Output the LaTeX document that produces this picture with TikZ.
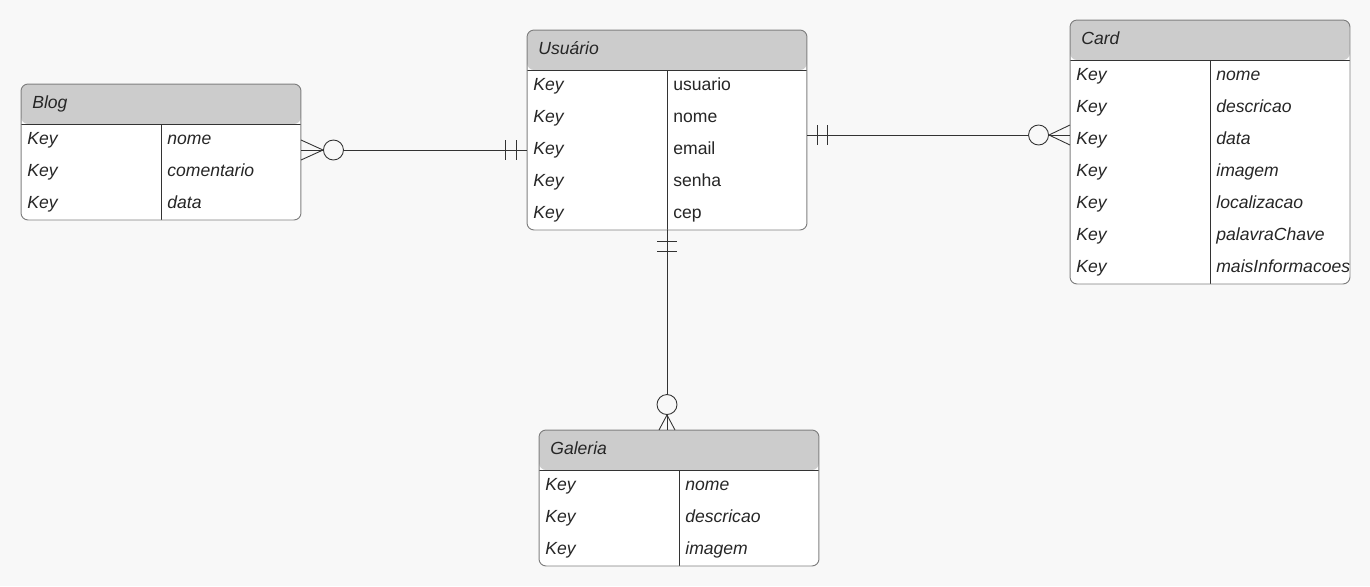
\documentclass[tikz,border=0pt]{standalone}
\usepackage{fontspec}
\setmainfont{Liberation Sans}
\usepackage{xcolor}
\usepackage{tikz}
\usetikzlibrary{calc}
\definecolor{pagebg}{HTML}{F8F8F8}
\definecolor{headgray}{HTML}{CCCCCC}
\definecolor{framegray}{HTML}{808080}
\definecolor{linedark}{HTML}{333333}
\definecolor{inkgray}{HTML}{262626}

\begin{document}
\begin{tikzpicture}[x=0.02cm, y=-0.02cm,
  every node/.style={font=\fontsize{10}{12}\selectfont, text=inkgray},
  entity/.style={draw=framegray, fill=white, rounded corners=4pt, minimum width=5.6cm,
    inner sep=0pt, line width=0.55pt,
    path picture={
      \fill[headgray] (path picture bounding box.north west) rectangle ([yshift=-0.8cm]path picture bounding box.north east);
      \draw[linedark, line width=0.5pt] ([yshift=-0.8cm]path picture bounding box.north west) -- ([yshift=-0.8cm]path picture bounding box.north east);
      \draw[linedark, line width=0.5pt] ([yshift=-0.8cm]path picture bounding box.north) -- (path picture bounding box.south);
    }},
  field/.style={anchor=west, inner sep=0pt, text height=7pt, text depth=2.5pt},
  fieldit/.style={field, font=\fontsize{10}{12}\selectfont\itshape},
  rel/.style={draw=linedark, line width=0.5pt},
  ring/.style={circle, draw=linedark, fill=pagebg, line width=0.5pt, minimum size=0.4cm, inner sep=0pt}]

\fill[pagebg] (0,0) rectangle (1370,586);
\useasboundingbox (0,0) rectangle (1370,586);

% ---------------- Usuario ---------------------------------------------------
\node[entity, minimum height=4cm] (usuario) at (667,130) {};
\node[fieldit] (usuario-t) at (538,51) {Usuário};
\foreach \v [count=\i] in {usuario,nome,email,senha,cep} {
  \coordinate (usuario-r\i) at (667,{54+32*\i});
  \node[fieldit] (usuario-k\i) at (533,{55+32*\i}) {Key};
  \node[field] (usuario-v\i) at (673,{55+32*\i}) {\v};
}

% ---------------- Blog ------------------------------------------------------
\node[entity, minimum height=2.72cm] (blog) at (161,152) {};
\node[fieldit] (blog-t) at (32,105) {Blog};
\foreach \v [count=\i] in {nome,comentario,data} {
  \node[fieldit] (blog-k\i) at (27,{109+32*\i}) {Key};
  \node[fieldit] (blog-v\i) at (167,{109+32*\i}) {\v};
}

% ---------------- Card ------------------------------------------------------
\node[entity, minimum height=5.28cm] (card) at (1210,152) {};
\node[fieldit] (card-t) at (1081,41) {Card};
\foreach \v [count=\i] in {nome,descricao,data,imagem,localizacao,palavraChave,maisInformacoes} {
  \node[fieldit] (card-k\i) at (1076,{45+32*\i}) {Key};
  \node[fieldit] (card-v\i) at (1216,{45+32*\i}) {\v};
}

% ---------------- Galeria ---------------------------------------------------
\node[entity, minimum height=2.72cm] (galeria) at (679,498) {};
\node[fieldit] (galeria-t) at (550,451) {Galeria};
\foreach \v [count=\i] in {nome,descricao,imagem} {
  \node[fieldit] (galeria-k\i) at (545,{455+32*\i}) {Key};
  \node[fieldit] (galeria-v\i) at (685,{455+32*\i}) {\v};
}

% ---------------- relations -------------------------------------------------
% Blog -- Usuario
\coordinate (bu-b) at (blog.east |- usuario-r3);
\coordinate (bu-u) at (usuario.west |- usuario-r3);
\draw[rel] (bu-b) -- (bu-u);
\draw[rel] (bu-u) ++(-10,-10) -- ++(0,20) (bu-u) ++(-21,-10) -- ++(0,20);
\node[ring] (bu-o) at ($(bu-b)+(32,0)$) {};
\draw[rel] (bu-o.west) -- +(-22,-10) (bu-o.west) -- +(-22,10);

% Usuario -- Card
\coordinate (uc-u) at ([yshift=-0.1cm]usuario.east);
\coordinate (uc-c) at (card.west |- uc-u);
\draw[rel] (uc-u) -- (uc-c);
\draw[rel] (uc-u) ++(10,-10) -- ++(0,20) (uc-u) ++(20,-10) -- ++(0,20);
\node[ring] (uc-o) at ($(uc-c)+(-31,0)$) {};
\draw[rel] (uc-o.east) -- +(21,-10) (uc-o.east) -- +(21,10);

% Usuario -- Galeria
\coordinate (ug-g) at (galeria.north -| usuario.south);
\draw[rel] (usuario.south) -- (ug-g);
\draw[rel] (usuario.south) ++(-10,11) -- ++(20,0) (usuario.south) ++(-10,21) -- ++(20,0);
\node[ring] (ug-o) at ($(ug-g)+(0,-25)$) {};
\draw[rel] (ug-o.south) -- +(-8,15) (ug-o.south) -- +(8,15);

\end{tikzpicture}
\end{document}
